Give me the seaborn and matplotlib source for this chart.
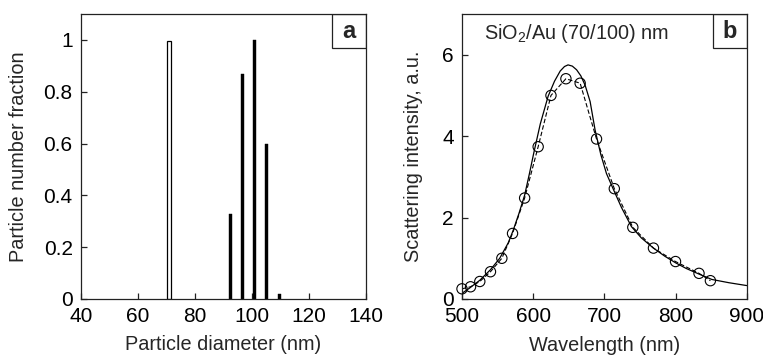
import numpy as np
import pandas as pd
import matplotlib
matplotlib.use("Agg")
import matplotlib.pyplot as plt
from matplotlib.patches import Rectangle
import seaborn as sns

# ------------------------------------------------------------
# Data
# ------------------------------------------------------------
# panel a: size distributions
core_diam = [71.0]
core_frac = [0.995]
shell_diam = [92.6, 96.6, 100.8, 105.0, 109.6]
shell_frac = [0.33, 0.87, 1.0, 0.60, 0.02]

# panel b: measured scattering (circles, dashed)
meas_wl = [500, 512, 525, 540, 556, 571, 588, 607, 625, 646, 666, 689, 714, 740, 769, 800, 833, 849]
meas_int = [0.25, 0.30, 0.43, 0.67, 1.00, 1.61, 2.48, 3.74, 5.00, 5.41, 5.30, 3.93, 2.71, 1.76, 1.25, 0.92, 0.63, 0.45]

# panel b: calculated spectrum (solid)
calc_wl = [500, 510, 525, 540, 553, 565, 572, 580, 588, 595, 601, 610, 621, 630, 638, 644,
           649, 655, 661, 667, 673, 680, 687, 695, 703, 712, 724, 738, 752, 769, 785, 800,
           815, 832, 851, 875, 900]
calc_int = [0.14, 0.26, 0.46, 0.72, 1.00, 1.38, 1.69, 2.10, 2.55, 3.10, 3.60, 4.30, 4.98, 5.35, 5.60, 5.71,
            5.75, 5.72, 5.63, 5.48, 5.25, 4.85, 4.15, 3.55, 3.08, 2.72, 2.25, 1.78, 1.50, 1.25, 1.05, 0.89,
            0.75, 0.62, 0.48, 0.40, 0.33]

a_xticks = [40, 60, 80, 100, 120, 140]
a_yticks = [0, 0.2, 0.4, 0.6, 0.8, 1.0]
a_ylabels = ["0", "0.2", "0.4", "0.6", "0.8", "1"]
b_xticks = [500, 600, 700, 800, 900]
b_yticks = [0, 2, 4, 6]

# ------------------------------------------------------------
# Style
# ------------------------------------------------------------
sns.set_theme(style="ticks")
plt.rcParams["font.family"] = ["Liberation Sans", "DejaVu Sans"]
plt.rcParams["mathtext.fontset"] = "custom"
plt.rcParams["mathtext.rm"] = "Liberation Sans"
plt.rcParams["mathtext.it"] = "Liberation Sans:italic"
plt.rcParams["xtick.direction"] = "in"
plt.rcParams["ytick.direction"] = "in"

FS = 14.3
TFS = 15
fig = plt.figure(figsize=(7.63, 3.56), dpi=100)
ax_a = fig.add_axes([81 / 763, 1 - 299 / 356, 285 / 763, 285 / 356])
ax_b = fig.add_axes([462 / 763, 1 - 299 / 356, 284.7 / 763, 285 / 356])


def style_axes(ax):
    for s in ax.spines.values():
        s.set_color("#222222")
        s.set_linewidth(0.9)
    ax.tick_params(axis="both", length=4, width=0.9, color="#222222",
                   labelsize=TFS, labelcolor="black")
    ax.tick_params(axis="x", pad=6)
    ax.tick_params(axis="y", pad=6)


def panel_label(ax, letter):
    w = 34 / 285
    ax.add_patch(Rectangle((1 - w, 1 - w), w, w, transform=ax.transAxes,
                           fill=False, edgecolor="#222222", lw=0.9, zorder=5))
    ax.text(1 - w / 2, 1 - w / 2, letter, transform=ax.transAxes, ha="center",
            va="center", fontsize=17, fontweight="bold", zorder=6)


# ------------------------------------------------------------
# Panel a
# ------------------------------------------------------------
ax_a.bar(core_diam, core_frac, width=1.5, facecolor="white", edgecolor="black", linewidth=0.9)
ax_a.bar(shell_diam, shell_frac, width=1.0, color="black", edgecolor="black", linewidth=0.3)
ax_a.set_xlim(40, 140)
ax_a.set_ylim(0, 1.1)
ax_a.set_xticks(a_xticks)
ax_a.set_yticks(a_yticks)
ax_a.set_yticklabels(a_ylabels)
ax_a.set_xlabel("Particle diameter (nm)", fontsize=FS)
ax_a.set_ylabel("Particle number fraction", fontsize=FS)
ax_a.xaxis.set_label_coords(0.5, -0.126)
ax_a.yaxis.set_label_coords(-0.186, 0.5)
style_axes(ax_a)
panel_label(ax_a, "a")

# ------------------------------------------------------------
# Panel b
# ------------------------------------------------------------
meas = pd.DataFrame({"wl": meas_wl, "I": meas_int})
calc = pd.DataFrame({"wl": calc_wl, "I": calc_int})
sns.lineplot(data=calc, x="wl", y="I", ax=ax_b, color="black", linewidth=0.9)
sns.lineplot(data=meas, x="wl", y="I", ax=ax_b, color="black", linewidth=0.8,
             dashes=False, linestyle=(0, (4, 2)))
ax_b.scatter(meas["wl"], meas["I"], s=55, facecolors="none", edgecolors="black",
             linewidths=0.8, zorder=4, clip_on=False)
ax_b.set_xlim(500, 900)
ax_b.set_ylim(0, 7)
ax_b.set_xticks(b_xticks)
ax_b.set_yticks(b_yticks)
ax_b.set_xlabel("Wavelength (nm)", fontsize=FS)
ax_b.set_ylabel("Scattering intensity, a.u.", fontsize=FS)
ax_b.xaxis.set_label_coords(0.5, -0.13)
ax_b.yaxis.set_label_coords(-0.137, 0.5)
ax_b.text(0.077, 0.933, r"SiO$_2$/Au (70/100) nm", transform=ax_b.transAxes,
          ha="left", va="center", fontsize=FS)
style_axes(ax_b)
panel_label(ax_b, "b")

fig.savefig("out.png", dpi=100)
